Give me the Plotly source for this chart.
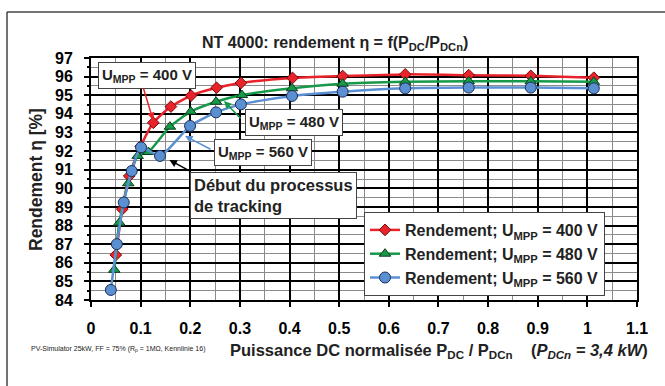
import plotly.graph_objects as go

# ---- data ----
x_400 = [0.050, 0.063, 0.077, 0.100, 0.1256, 0.161, 0.2016, 0.253, 0.302, 0.406, 0.507, 0.633, 0.761, 0.886, 1.013]
y_400 = [86.42, 88.88, 90.66, 92.25, 93.52, 94.39, 94.98, 95.40, 95.66, 95.93, 96.03, 96.12, 96.08, 96.04, 95.94]

x_480 = [0.047, 0.057, 0.075, 0.094, 0.1156, 0.159, 0.201, 0.252, 0.304, 0.405, 0.507, 0.633, 0.761, 0.886, 1.013]
y_480 = [85.62, 88.15, 90.27, 91.74, 91.95, 93.31, 94.12, 94.65, 95.01, 95.37, 95.62, 95.72, 95.75, 95.75, 95.72]

x_560 = [0.040, 0.052, 0.066, 0.082, 0.1008, 0.139, 0.1996, 0.252, 0.302, 0.405, 0.507, 0.633, 0.761, 0.886, 1.013]
y_560 = [84.54, 87.00, 89.24, 90.93, 92.20, 91.74, 93.35, 94.08, 94.51, 94.96, 95.19, 95.37, 95.41, 95.41, 95.37]

series_names = ["Rendement; U<sub>MPP</sub> = 400 V",
                "Rendement; U<sub>MPP</sub> = 480 V",
                "Rendement; U<sub>MPP</sub> = 560 V"]
x_ticks = [0, 0.1, 0.2, 0.3, 0.4, 0.5, 0.6, 0.7, 0.8, 0.9, 1, 1.1]
x_tick_labels = ["0", "0.1", "0.2", "0.3", "0.4", "0.5", "0.6", "0.7", "0.8", "0.9", "1", "1.1"]
y_ticks = list(range(84, 98))

FONT = "Liberation Sans, Arial, sans-serif"
RED, GREEN, BLUE = "#e8232b", "#17994a", "#5a8fd2"

W, H = 665, 386
L, R, T, B = 91, 28, 58, 86
PW, PH = W - L - R, H - T - B


def px(xp):
    return (xp - L) / PW


def py(yp):
    return (H - B - yp) / PH


fig = go.Figure()
styles = [
    (x_400, y_400, RED, "diamond", 9, "#7a0a0a"),
    (x_480, y_480, GREEN, "triangle-up", 10, "#0b3d1c"),
    (x_560, y_560, BLUE, "circle", 11, "#1c2f5a"),
]
for (xs, ys, col, sym, sz, edge), name in zip(styles, series_names):
    fig.add_trace(go.Scatter(
        x=xs, y=ys, name=name, mode="lines+markers",
        line=dict(color=col, width=2.5, shape="spline", smoothing=0.6),
        marker=dict(symbol=sym, size=sz, color=col, line=dict(color=edge, width=1)),
    ))

axis_common = dict(
    showline=True, linecolor="black", linewidth=2, mirror=True,
    showgrid=True, gridcolor="black", gridwidth=1.5,
    ticks="outside", ticklen=5, tickwidth=1.5, tickcolor="black",
    tickfont=dict(family=FONT, size=16, color="black", weight="bold"),
    zeroline=False,
)
fig.update_xaxes(range=[0, 1.1], tickvals=x_ticks, ticktext=x_tick_labels,
                 minor=dict(dtick=0.05, showgrid=True, gridcolor="#8a8a8a", gridwidth=1),
                 ticklabelstandoff=8, **axis_common)
fig.update_yaxes(range=[84, 97], tickvals=y_ticks,
                 minor=dict(dtick=0.5, showgrid=True, gridcolor="#8a8a8a", gridwidth=1,
                            ticks="outside", ticklen=2, tickcolor="black"),
                 ticklabelstandoff=8, **axis_common)


def label(text, x, y, size, xanchor="center", yanchor="middle", **kw):
    return dict(text=text, x=px(x), y=py(y), xref="paper", yref="paper", showarrow=False,
                xanchor=xanchor, yanchor=yanchor,
                font=dict(family=FONT, size=size, color="#222"), **kw)


ann = []
ann.append(label("<b>NT 4000: rendement η = f(P<sub>DC</sub>/P<sub>DCn</sub>)</b>", 335, 43, 16))
ann.append(label("<b>Rendement η [%]</b>", 36, 180, 17.5, textangle=-90))
ann.append(label("<b>Puissance DC normalisée P<sub>DC</sub> / P<sub>DCn</sub>\u00a0\u00a0\u00a0\u00a0(<i>P<sub>DCn</sub> = 3,4 kW</i>)</b>",
                 228, 351, 16.5, xanchor="left"))
ann.append(label("PV-Simulator 25kW, FF = 75% (R<sub>p</sub> = 1MΩ, Kennlinie 16)", 29, 349, 7, xanchor="left"))

box = dict(bgcolor="white", bordercolor="#444", borderwidth=1, borderpad=3)
for txt, cx, cy in [("<b>U<sub>MPP</sub> = 400 V</b>", 147, 75),
                    ("<b>U<sub>MPP</sub> = 480 V</b>", 294, 122),
                    ("<b>U<sub>MPP</sub> = 560 V</b>", 263, 152)]:
    ann.append(label(txt, cx, cy, 15, **box))
ann.append(label("<b>Début du processus<br>de tracking</b>", 190, 172, 16.5, xanchor="left", yanchor="top",
                 align="left", bgcolor="white", bordercolor="#444", borderwidth=1, borderpad=3))

# arrows (head at data point, tail offset in pixels)
for hx, hy, ax, ay, col in [(0.125, 93.67, -10, -33, RED),
                            (0.268, 94.69, 18, 19, GREEN),
                            (0.1895, 92.81, 27, 14, BLUE),
                            (0.158, 91.52, 22, 12, "black")]:
    ann.append(dict(text="", x=hx, y=hy, xref="x", yref="y", ax=ax, ay=ay,
                    showarrow=True, arrowhead=2, arrowsize=1, arrowwidth=1.5, arrowcolor=col))

shapes = [
    dict(type="line", xref="paper", yref="paper", x0=px(7), x1=px(7), y0=py(12), y1=py(386),
         line=dict(color="#444", width=1.5)),
    dict(type="line", xref="paper", yref="paper", x0=px(7), x1=px(665), y0=py(12), y1=py(12),
         line=dict(color="#444", width=1.5)),
]

fig.update_layout(
    width=W, height=H, margin=dict(l=L, r=R, t=T, b=B),
    paper_bgcolor="white", plot_bgcolor="white",
    annotations=ann, shapes=shapes,
    legend=dict(x=px(364), y=py(212), xanchor="left", yanchor="top",
                bgcolor="white", bordercolor="#444", borderwidth=1,
                font=dict(family=FONT, size=16, color="#222", weight="bold"),
                itemwidth=30, tracegroupgap=0),
    showlegend=True,
)

fig.write_html("out.html")
